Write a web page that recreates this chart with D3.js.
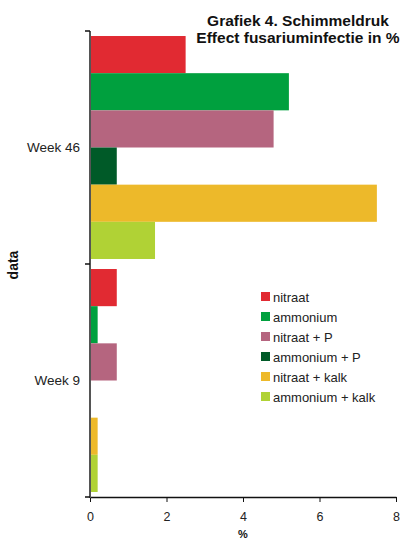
<!DOCTYPE html>
<html>
<head>
<meta charset="utf-8">
<script src="https://cdn.jsdelivr.net/npm/d3@7"></script>
<style>
  html, body { margin: 0; padding: 0; background: #fff; }
  svg { display: block; font-family: "Liberation Sans", Arial, sans-serif; }
</style>
</head>
<body>
<svg id="chart" width="404" height="542"></svg>
<script>
// Weeks (top to bottom) and fertiliser treatments
const weeks = ["Week 46", "Week 9"];
const series = ["nitraat", "ammonium", "nitraat + P", "ammonium + P", "nitraat + kalk", "ammonium + kalk"];
const colors = ["#e12a32", "#00a03e", "#b5657f", "#005a28", "#edb92a", "#b0d235"];
// Fusarium infection (%) per treatment, one array per week
const week46 = [2.5, 5.2, 4.8, 0.7, 7.5, 1.7];
const week9 = [0.7, 0.2, 0.7, 0, 0.2, 0.2];
const xTicks = [0, 2, 4, 6, 8];

const values = { "Week 46": week46, "Week 9": week9 };

const svg = d3.select("#chart");
const plotLeft = 90, plotRight = 396, plotTop = 31, plotBottom = 497;

const x = d3.scaleLinear().domain([0, 8]).range([plotLeft, plotRight]);
const y = d3.scaleBand().domain(weeks).range([plotTop, plotBottom]).padding(0);
const inner = d3.scaleBand().domain(series).range([0, y.bandwidth()])
  .paddingInner(0).paddingOuter(0.135);

// Bars
weeks.forEach(w => {
  svg.append("g").selectAll("rect")
    .data(series.map((s, i) => ({ s, v: values[w][i], c: colors[i] })))
    .join("rect")
    .attr("x", x(0))
    .attr("y", d => y(w) + inner(d.s))
    .attr("width", d => x(d.v) - x(0))
    .attr("height", inner.bandwidth())
    .attr("fill", d => d.c);
});

// X axis
const xAxis = svg.append("g")
  .attr("transform", `translate(0,${plotBottom})`)
  .call(d3.axisBottom(x).tickValues(xTicks).tickSize(5).tickSizeOuter(0).tickPadding(10));
xAxis.select(".domain").attr("stroke", "#111").attr("stroke-width", 1.5);
xAxis.selectAll(".tick line").attr("stroke", "#111");
xAxis.selectAll(".tick text").attr("font-size", 12.5).attr("fill", "#222")
  .attr("font-family", "Liberation Sans, Arial, sans-serif");

// Y axis: boundary ticks between weeks, labels centred in bands
svg.append("line")
  .attr("x1", plotLeft).attr("x2", plotLeft).attr("y1", plotTop).attr("y2", plotBottom + 1)
  .attr("stroke", "#555").attr("stroke-width", 2);
const bounds = [plotTop, y("Week 9"), plotBottom];
svg.append("g").selectAll("line").data(bounds).join("line")
  .attr("x1", plotLeft - 5).attr("x2", plotLeft).attr("y1", d => d).attr("y2", d => d)
  .attr("stroke", "#111").attr("stroke-width", 1.5);
svg.append("g").selectAll("text").data(weeks).join("text")
  .attr("x", 80).attr("y", d => y(d) + y.bandwidth() / 2)
  .attr("dy", "0.35em").attr("text-anchor", "end")
  .attr("font-size", 13.5).attr("fill", "#222").text(d => d);

// Axis titles
svg.append("text").attr("transform", "translate(18,265) rotate(-90)")
  .attr("text-anchor", "middle").attr("font-size", 14).attr("font-weight", "bold")
  .attr("fill", "#111").text("data");
svg.append("text").attr("x", (plotLeft + plotRight) / 2).attr("y", 538)
  .attr("text-anchor", "middle").attr("font-size", 11).attr("font-weight", "bold")
  .attr("fill", "#111").text("%");

// Title
const title = svg.append("text").attr("text-anchor", "middle")
  .attr("font-size", 15.5).attr("font-weight", "bold").attr("fill", "#111");
title.append("tspan").attr("x", 298).attr("y", 26).text("Grafiek 4. Schimmeldruk");
title.append("tspan").attr("x", 298).attr("y", 43).text("Effect fusariuminfectie in %");

// Legend
const legend = svg.append("g").selectAll("g").data(series).join("g")
  .attr("transform", (d, i) => `translate(261,${292 + i * 20})`);
legend.append("rect").attr("width", 9).attr("height", 9)
  .attr("fill", (d, i) => colors[i]);
legend.append("text").attr("x", 12).attr("y", 5).attr("dy", "0.35em")
  .attr("font-size", 13).attr("fill", "#222").text(d => d);
</script>
</body>
</html>
